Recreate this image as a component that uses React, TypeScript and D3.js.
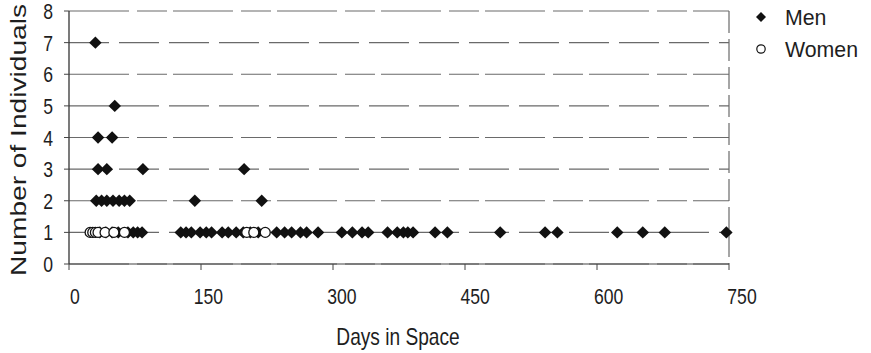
import React, { useEffect, useRef } from "react";
import * as d3 from "d3";

// ---- data ----
const menDays = [
  // count 1
  35, 42, 49, 56, 67, 73, 78, 83,
  127, 133, 139, 149, 156, 162, 174, 181, 190, 198, 206, 215,
  236, 245, 253, 263, 270, 283, 310, 322, 333, 340, 362, 373, 380, 385, 391,
  416, 430, 490, 541, 555, 623, 652, 677, 747,
  // count 2
  31, 37, 43, 50, 57, 63, 69, 143, 219,
  // count 3
  33, 43, 84, 199,
  // count 4
  33, 49,
  // count 5
  52,
  // count 7
  30,
];
const menCounts = [
  1, 1, 1, 1, 1, 1, 1, 1,
  1, 1, 1, 1, 1, 1, 1, 1, 1, 1, 1, 1,
  1, 1, 1, 1, 1, 1, 1, 1, 1, 1, 1, 1, 1, 1, 1,
  1, 1, 1, 1, 1, 1, 1, 1, 1,
  2, 2, 2, 2, 2, 2, 2, 2, 2,
  3, 3, 3, 3,
  4, 4,
  5,
  7,
];
const womenDays = [24, 27, 30, 33, 41, 51, 63, 202, 210, 223];
const womenCounts = [1, 1, 1, 1, 1, 1, 1, 1, 1, 1];

const xTicks = [0, 150, 300, 450, 600, 750];
const yTicks = [0, 1, 2, 3, 4, 5, 6, 7, 8];
const seriesNames = ["Men", "Women"];
const xTitle = "Days in Space";
const yTitle = "Number of Individuals";

const W = 871;
const H = 353;
const FONT = "'Liberation Sans', Arial, Helvetica, sans-serif";
const SX = 0.8; // glyphs in the scan are narrow and tall

export default function App() {
  const ref = useRef<SVGSVGElement | null>(null);

  useEffect(() => {
    const svg = d3.select(ref.current);
    svg.selectAll("*").remove();

    const x = d3.scaleLinear().domain([0, 750]).range([69, 729]);
    const y = d3.scaleLinear().domain([0, 8]).range([264, 11]);
    const grid = "#6a6a6a";
    const ink = "#1e1e1e";

    // gridlines
    svg
      .append("g")
      .selectAll("line")
      .data(yTicks)
      .join("line")
      .attr("x1", x(0))
      .attr("x2", x(750))
      .attr("y1", (d) => y(d))
      .attr("y2", (d) => y(d))
      .attr("stroke", grid)
      .attr("stroke-width", 1.2)
      .attr("stroke-dasharray", (d) => (d % 2 === 0 ? "60 8 30 6" : "40 10"));

    // right border
    svg
      .append("line")
      .attr("x1", x(750))
      .attr("x2", x(750))
      .attr("y1", y(8))
      .attr("y2", y(0))
      .attr("stroke", grid)
      .attr("stroke-width", 1.2)
      .attr("stroke-dasharray", "22 6");

    // x axis
    const xAxis = svg.append("g").attr("transform", `translate(0,${y(0)})`);
    xAxis
      .append("line")
      .attr("x1", x(0))
      .attr("x2", x(750))
      .attr("stroke", "#444")
      .attr("stroke-width", 1.2);
    xAxis
      .selectAll("line.tick")
      .data(xTicks)
      .join("line")
      .attr("class", "tick")
      .attr("x1", (d) => x(d))
      .attr("x2", (d) => x(d))
      .attr("y1", 0)
      .attr("y2", 6)
      .attr("stroke", "#444");
    xAxis
      .selectAll("text")
      .data(xTicks)
      .join("text")
      .attr("transform", (d) => `translate(${x(d) + 6 + (d / 750) * 7},40) scale(${SX},1)`)
      .attr("text-anchor", "middle")
      .attr("font-family", FONT)
      .attr("font-size", 22)
      .attr("fill", ink)
      .text((d) => String(d));

    // y axis
    const yAxis = svg.append("g").attr("transform", `translate(${x(0)},0)`);
    yAxis
      .append("line")
      .attr("y1", y(8))
      .attr("y2", y(0))
      .attr("stroke", "#333")
      .attr("stroke-width", 1.3);
    yAxis
      .selectAll("line.tick")
      .data(yTicks)
      .join("line")
      .attr("class", "tick")
      .attr("x1", -5)
      .attr("x2", 0)
      .attr("y1", (d) => y(d))
      .attr("y2", (d) => y(d))
      .attr("stroke", "#444");
    yAxis
      .selectAll("text")
      .data(yTicks)
      .join("text")
      .attr("transform", (d) => `translate(-16,${y(d) + 8}) scale(${SX},1)`)
      .attr("text-anchor", "end")
      .attr("font-family", FONT)
      .attr("font-size", 22)
      .attr("fill", ink)
      .text((d) => String(d));

    // titles
    svg
      .append("text")
      .attr("transform", `translate(398,345) scale(${SX * 1.04},1)`)
      .attr("text-anchor", "middle")
      .attr("font-family", FONT)
      .attr("font-size", 23)
      .attr("fill", ink)
      .text(xTitle);
    svg
      .append("text")
      .attr("transform", `translate(26,140) rotate(-90)`)
      .attr("text-anchor", "middle")
      .attr("font-family", FONT)
      .attr("font-size", 22)
      .attr("textLength", 272)
      .attr("lengthAdjust", "spacingAndGlyphs")
      .attr("fill", ink)
      .text(yTitle);

    // men (diamonds)
    const diamond = d3.symbol(d3.symbolSquare, 78)();
    const men = menDays.map((d, i) => ({ d, c: menCounts[i] }));
    svg
      .append("g")
      .selectAll("path")
      .data(men)
      .join("path")
      .attr("d", diamond)
      .attr("transform", (p) => `translate(${x(p.d)},${y(p.c)}) rotate(45)`)
      .attr("fill", "#111");

    // women (open circles)
    const women = womenDays.map((d, i) => ({ d, c: womenCounts[i] }));
    svg
      .append("g")
      .selectAll("circle")
      .data(women)
      .join("circle")
      .attr("cx", (p) => x(p.d))
      .attr("cy", (p) => y(p.c))
      .attr("r", 5)
      .attr("fill", "#fff")
      .attr("stroke", "#111")
      .attr("stroke-width", 1.3);

    // legend
    const lg = svg.append("g");
    lg.append("path")
      .attr("d", d3.symbol(d3.symbolSquare, 50)())
      .attr("transform", `translate(761,17) rotate(45)`)
      .attr("fill", "#111");
    lg.append("circle")
      .attr("cx", 761)
      .attr("cy", 49)
      .attr("r", 4.2)
      .attr("fill", "#fff")
      .attr("stroke", "#111")
      .attr("stroke-width", 1.2);
    lg.selectAll("text")
      .data(seriesNames)
      .join("text")
      .attr("transform", (_d, i) => `translate(785,${25 + i * 32}) scale(0.97,1)`)
      .attr("font-family", FONT)
      .attr("font-size", 22)
      .attr("fill", ink)
      .text((d) => d);
  }, []);

  return (
    <svg
      ref={ref}
      width={W}
      height={H}
      style={{ position: "absolute", left: 0, top: 0, background: "#fff" }}
    />
  );
}
